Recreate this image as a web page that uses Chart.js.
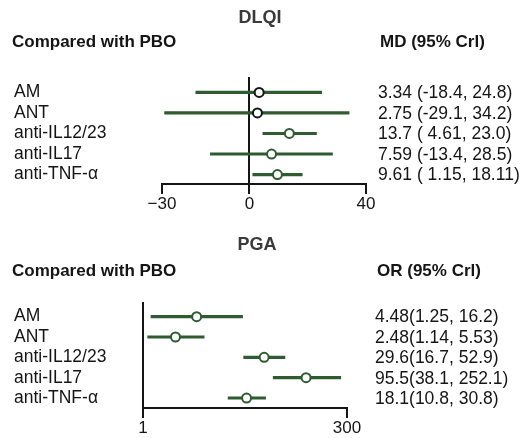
<!DOCTYPE html>
<html>
<head>
<meta charset="utf-8">
<script src="https://cdn.jsdelivr.net/npm/chart.js@4.4.0/dist/chart.umd.min.js"></script>
<style>
    body { margin: 0; background: #ffffff; }
    #wrap { position: relative; width: 521px; height: 438px; background: #ffffff; }
    canvas { position: absolute; left: 0; }
</style>
</head>
<body>
<div id="wrap">
    <canvas id="dlqiChart" width="521" height="220" style="top:0"></canvas>
    <canvas id="pgaChart" width="521" height="218" style="top:220px"></canvas>
</div>
<script>
// --- data ---
const treatments = ['AM', 'ANT', 'anti-IL12/23', 'anti-IL17', 'anti-TNF-α'];

const dlqiMean  = [3.34, 2.75, 13.7, 7.59, 9.61];
const dlqiLower = [-18.4, -29.1, 4.61, -13.4, 1.15];
const dlqiUpper = [24.8, 34.2, 23.0, 28.5, 18.11];
const dlqiText  = ['3.34 (-18.4, 24.8)', '2.75 (-29.1, 34.2)', '13.7 ( 4.61, 23.0)', '7.59 (-13.4, 28.5)', '9.61 ( 1.15, 18.11)'];
const dlqiTicks = [-30, 0, 40];

const pgaMean  = [4.48, 2.48, 29.6, 95.5, 18.1];
const pgaLower = [1.25, 1.14, 16.7, 38.1, 10.8];
const pgaUpper = [16.2, 5.53, 52.9, 252.1, 30.8];
const pgaText  = ['4.48(1.25, 16.2)', '2.48(1.14, 5.53)', '29.6(16.7, 52.9)', '95.5(38.1, 252.1)', '18.1(10.8, 30.8)'];
const pgaTicks = [1, 300];

const GREEN = '#2f5b31';
const INK = '#151515';
const FONT = "'Liberation Sans', Arial, sans-serif";

// header texts + right-hand column
const forestText = {
    id: 'forestText',
    afterDraw(chart, args, opts) {
        const ctx = chart.ctx;
        const y = chart.scales.y;
        ctx.save();
        ctx.textBaseline = 'middle';

        ctx.fillStyle = '#3a3a3a';
        ctx.textAlign = 'center';
        ctx.font = 'bold 18px ' + FONT;
        ctx.fillText(opts.title, opts.titleX, opts.titleY);

        ctx.fillStyle = INK;
        ctx.textAlign = 'left';
        ctx.font = 'bold 17px ' + FONT;
        ctx.fillText('Compared with PBO', 12, opts.headY);
        ctx.fillText(opts.rightHead, opts.rightX + 2, opts.headY);

        ctx.font = '17.5px ' + FONT;
        opts.rows.forEach((t, i) => {
            ctx.fillText(t, opts.rightX, y.getPixelForValue(i) + 1);
        });
        ctx.restore();
    }
};

function buildForest(id, p) {
    const ctx = document.getElementById(id);
    return new Chart(ctx, {
        type: 'bar',
        data: {
            datasets: [
                {
                    type: 'scatter',
                    data: p.mean.map((v, i) => ({ x: v, y: i })),
                    pointRadius: 4.5,
                    pointBorderWidth: 2,
                    pointBackgroundColor: '#ffffff',
                    pointBorderColor: p.pointColors,
                    order: 1
                },
                {
                    type: 'bar',
                    data: p.lower.map((v, i) => ({ x: [v, p.upper[i]], y: i })),
                    backgroundColor: GREEN,
                    borderWidth: 0,
                    barThickness: 2.5,
                    order: 2
                }
            ]
        },
        options: {
            indexAxis: 'y',
            responsive: false,
            animation: false,
            events: [],
            layout: { padding: { left: 14, right: 521 - p.right, top: p.top, bottom: 0 } },
            plugins: {
                legend: { display: false },
                tooltip: { enabled: false },
                forestText: p.text
            },
            scales: {
                x: {
                    type: p.xType,
                    min: p.xTicks[0],
                    max: p.xTicks[p.xTicks.length - 1],
                    offset: false,
                    afterBuildTicks: (s) => { s.ticks = p.xTicks.map(v => ({ value: v })); },
                    afterFit: (s) => { s.height = p.axisH; },
                    border: { display: true, color: INK, width: 2 },
                    grid: {
                        offset: false,
                        drawOnChartArea: true,
                        color: (c) => (c.tick && c.tick.value === p.ref ? INK : 'rgba(0,0,0,0)'),
                        tickColor: INK,
                        lineWidth: 2,
                        tickLength: 10
                    },
                    ticks: {
                        color: INK,
                        padding: 0,
                        maxRotation: 0,
                        autoSkip: false,
                        font: { family: FONT, size: 17 },
                        callback: (v) => (v < 0 ? '\u2212' + Math.abs(v) : String(v))
                    }
                },
                y: {
                    type: 'linear',
                    reverse: true,
                    offset: false,
                    min: p.yMin,
                    max: p.yMax,
                    afterBuildTicks: (s) => { s.ticks = treatments.map((c, i) => ({ value: i })); },
                    afterFit: (s) => { s.width = p.left - 14; },
                    border: { display: false },
                    grid: { display: false, offset: false },
                    ticks: {
                        crossAlign: 'far',
                        color: INK,
                        padding: 0,
                        autoSkip: false,
                        font: { family: FONT, size: 17.5 },
                        callback: (v) => treatments[v]
                    }
                }
            }
        },
        plugins: [forestText]
    });
}

document.addEventListener('DOMContentLoaded', () => {
    try {
        buildForest('dlqiChart', {
            mean: dlqiMean, lower: dlqiLower, upper: dlqiUpper,
            pointColors: [INK, INK, GREEN, GREEN, GREEN],
            xType: 'linear', xTicks: dlqiTicks, ref: 0,
            left: 162, right: 366, top: 77, axisH: 36,
            yMin: -0.75, yMax: 4.46,
            text: { title: 'DLQI', titleX: 260, titleY: 18, headY: 42, rightHead: 'MD (95% Crl)', rightX: 378, rows: dlqiText }
        });

        buildForest('pgaChart', {
            mean: pgaMean, lower: pgaLower, upper: pgaUpper,
            pointColors: [GREEN, GREEN, GREEN, GREEN, GREEN],
            xType: 'logarithmic', xTicks: pgaTicks, ref: 1,
            left: 143, right: 347, top: 82, axisH: 30,
            yMin: -0.72, yMax: 4.49,
            text: { title: 'PGA', titleX: 257, titleY: 25, headY: 51, rightHead: 'OR (95% Crl)', rightX: 375, rows: pgaText }
        });
    } catch (error) {
        console.error('Chart Rendering Error:', error);
    }
});
</script>
</body>
</html>
